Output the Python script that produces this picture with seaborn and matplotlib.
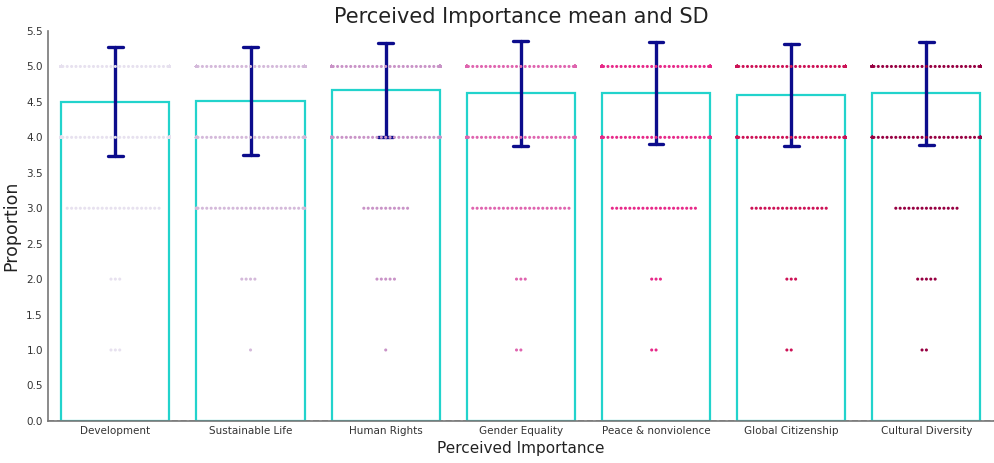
import warnings
import numpy as np
import pandas as pd
import matplotlib
matplotlib.use("Agg")
import matplotlib.pyplot as plt
import seaborn as sns

warnings.filterwarnings("ignore")

categories = ["Development", "Sustainable Life", "Human Rights", "Gender Equality",
              "Peace & nonviolence", "Global Citizenship", "Cultural Diversity"]
levels = [1, 2, 3, 4, 5]

# number of answers per level (1..5) for each item
counts_development = [3, 3, 22, 80, 182]
counts_sustainable = [1, 4, 30, 70, 193]
counts_human_rights = [1, 5, 11, 55, 219]
counts_gender = [2, 3, 23, 45, 211]
counts_peace = [2, 3, 20, 55, 215]
counts_citizenship = [2, 3, 18, 60, 200]
counts_diversity = [2, 5, 15, 55, 207]

all_counts = [counts_development, counts_sustainable, counts_human_rights, counts_gender,
              counts_peace, counts_citizenship, counts_diversity]

rows = []
for cat, cnts in zip(categories, all_counts):
    vals = np.repeat(levels, cnts)
    rows.append(pd.DataFrame({"item": cat, "score": vals}))
df = pd.concat(rows, ignore_index=True)

sns.set_style("white")
fig = plt.figure(figsize=(9.95, 4.63), dpi=100)
ax = fig.add_axes([0.048, 0.091, 0.951, 0.842])

sns.barplot(data=df, x="item", y="score", order=categories, errorbar="sd",
            color="white", edgecolor="#22d3cc", linewidth=1.6,
            capsize=0.11, err_kws={"color": "#0c0c8c", "linewidth": 2.4}, ax=ax)
sns.swarmplot(data=df, x="item", y="score", order=categories, hue="item",
              hue_order=categories, palette="PuRd", size=2.2, linewidth=0.8,
              edgecolor=(1, 1, 1, 0), legend=False, ax=ax)

ax.axhline(0, color="#888888", ls="--", lw=1.2, zorder=0)
ax.set_ylim(0, 5.5)
ax.set_xlim(-0.5, 6.5)
ax.set_yticks(np.arange(0, 5.51, 0.5))
ax.set_yticklabels([f"{v:.1f}" for v in np.arange(0, 5.51, 0.5)])
ax.tick_params(axis="both", labelsize=7.5, colors="#333333", length=0)
sns.despine(ax=ax)
for s in ["left", "bottom"]:
    ax.spines[s].set_color("#777777")
    ax.spines[s].set_linewidth(1.2)

ax.set_title("Perceived Importance mean and SD", fontsize=15, color="#222222", pad=6)
ax.set_ylabel("Proportion", fontsize=12.5, color="#222222")
ax.set_xlabel("Perceived Importance", fontsize=11, color="#222222", labelpad=4)

fig.savefig("out.png", dpi=100)
